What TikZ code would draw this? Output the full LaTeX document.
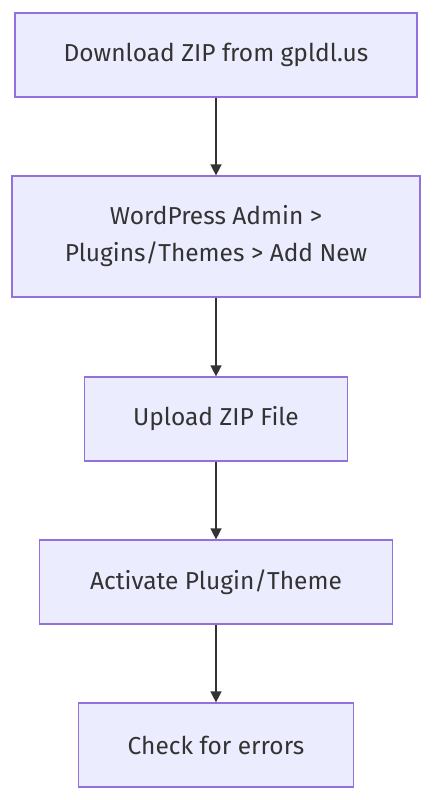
\documentclass[tikz,border=0pt]{standalone}
\usepackage{fontspec}
\setmainfont{Fira Sans}
\usetikzlibrary{arrows.meta}
\definecolor{boxfill}{HTML}{ECECFF}
\definecolor{boxline}{HTML}{9370DB}
\definecolor{ink}{HTML}{333333}
\tikzset{
  stepbox/.style={draw=boxline, fill=boxfill, line width=1.2pt, text=ink,
    inner sep=0pt, align=center, font=\fontsize{24.5}{37}\selectfont},
  flow/.style={draw=ink, line width=1.4pt, -{Triangle[length=11pt,width=11pt]}}
}
\begin{document}
\begin{tikzpicture}[x=1pt, y=-1pt]
    \useasboundingbox (0,0) rectangle (433,800);
    % steps
    \node[stepbox, minimum width=402pt, minimum height=84pt] (dl) at (216,55) {Download ZIP from gpldl.us};
    \node[stepbox, minimum width=408pt, minimum height=121pt] (admin) at (216,236.5) {WordPress Admin >\\Plugins/Themes > Add New};
    \node[stepbox, minimum width=263pt, minimum height=84pt] (upload) at (216,419) {Upload ZIP File};
    \node[stepbox, minimum width=353pt, minimum height=84pt] (activate) at (216,582) {Activate Plugin/Theme};
    \node[stepbox, minimum width=275pt, minimum height=84pt] (check) at (216,745) {Check for errors};
    % arrows
    \draw[flow] (dl) -- (admin);
    \draw[flow] (admin) -- (upload);
    \draw[flow] (upload) -- (activate);
    \draw[flow] (activate) -- (check);
\end{tikzpicture}
\end{document}
